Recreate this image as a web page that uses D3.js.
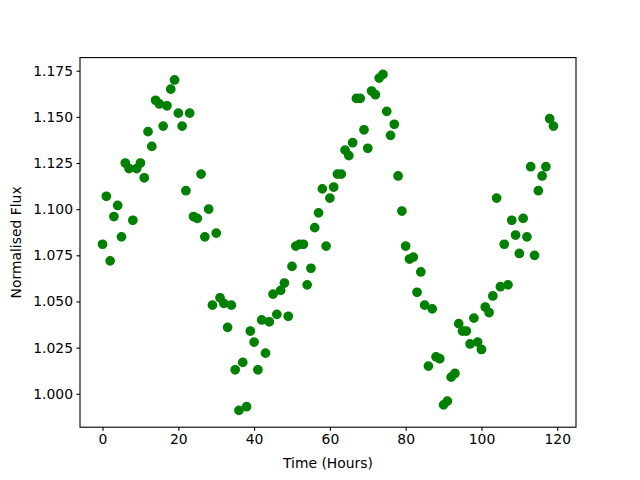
<!DOCTYPE html>
<html>
<head>
<meta charset="utf-8">
<script src="https://cdn.jsdelivr.net/npm/d3@7"></script>
<style>
  body { margin: 0; background: #fff; }
  text { font-family: "DejaVu Sans", sans-serif; fill: #000; }
</style>
</head>
<body>
<svg class="chart" width="640" height="480"></svg>
<script>
// hours 0..119, one reading per hour
const hours = d3.range(0, 120)
const flux = [
  1.081, 1.107, 1.072, 1.096, 1.102, 1.085, 1.125, 1.122, 1.094, 1.122,
  1.125, 1.117, 1.142, 1.134, 1.159, 1.157, 1.145, 1.156, 1.165, 1.170,
  1.152, 1.145, 1.110, 1.152, 1.096, 1.095, 1.119, 1.085, 1.100, 1.048,
  1.087, 1.052, 1.049, 1.036, 1.048, 1.013, 0.991, 1.017, 0.993, 1.034,
  1.028, 1.013, 1.040, 1.022, 1.039, 1.054, 1.043, 1.056, 1.060, 1.042,
  1.069, 1.080, 1.081, 1.081, 1.059, 1.068, 1.090, 1.098, 1.111, 1.080,
  1.106, 1.112, 1.119, 1.119, 1.132, 1.129, 1.136, 1.160, 1.160, 1.143,
  1.133, 1.164, 1.162, 1.171, 1.173, 1.153, 1.140, 1.146, 1.118, 1.099,
  1.080, 1.073, 1.074, 1.055, 1.066, 1.048, 1.015, 1.046, 1.020, 1.019,
  0.994, 0.996, 1.009, 1.011, 1.038, 1.034, 1.034, 1.027, 1.041, 1.028,
  1.024, 1.047, 1.044, 1.053, 1.106, 1.058, 1.081, 1.059, 1.094, 1.086,
  1.076, 1.095, 1.085, 1.123, 1.075, 1.110, 1.118, 1.123, 1.149, 1.145
]
const xTicks = [0, 20, 40, 60, 80, 100, 120]
const yTicks = [1.000, 1.025, 1.050, 1.075, 1.100, 1.125, 1.150, 1.175]

const plotLeft = 80, plotRight = 576, plotTop = 57.6, plotBottom = 427.2
const svg = d3.select('.chart')

// matplotlib-style 5% margins
const xMin = d3.min(hours), xMax = d3.max(hours)
const yMin = d3.min(flux), yMax = d3.max(flux)
const xPad = (xMax - xMin) * 0.05, yPad = (yMax - yMin) * 0.05
const xScale = d3.scaleLinear([xMin - xPad, xMax + xPad], [plotLeft, plotRight])
const yScale = d3.scaleLinear([yMin - yPad, yMax + yPad], [plotBottom, plotTop])

svg.append('g')
    .selectAll('circle')
    .data(hours)
    .join('circle')
    .attr('cx', d => xScale(d))
    .attr('cy', (d, i) => yScale(flux[i]))
    .attr('r', 4.17)
    .attr('fill', '#008000')
    .attr('stroke', '#008000')
    .attr('stroke-width', 1.39)

const xAxis = d3.axisBottom(xScale).tickValues(xTicks).tickSize(3.5).tickPadding(3.5)
    .tickFormat(d3.format('d'))
svg.append('g')
    .attr('transform', `translate(0,${plotBottom})`)
    .call(xAxis)
    .call(g => g.select('.domain').remove())
    .call(g => g.selectAll('text').attr('font-size', '13.9px').attr('font-family', 'DejaVu Sans'))
    .call(g => g.selectAll('line').attr('stroke-width', 1.1))

const yAxis = d3.axisLeft(yScale).tickValues(yTicks).tickSize(3.5).tickPadding(3.5)
    .tickFormat(d3.format('.3f'))
svg.append('g')
    .attr('transform', `translate(${plotLeft},0)`)
    .call(yAxis)
    .call(g => g.select('.domain').remove())
    .call(g => g.selectAll('text').attr('font-size', '13.9px').attr('font-family', 'DejaVu Sans'))
    .call(g => g.selectAll('line').attr('stroke-width', 1.1))

svg.append('rect')
    .attr('x', plotLeft).attr('y', plotTop)
    .attr('width', plotRight - plotLeft).attr('height', plotBottom - plotTop)
    .attr('fill', 'none').attr('stroke', '#000').attr('stroke-width', 1.1)

svg.append('text')
    .text('Time (Hours)')
    .attr('x', (plotLeft + plotRight) / 2)
    .attr('y', 468)
    .attr('text-anchor', 'middle')
    .attr('font-size', '13.9px')

svg.append('text')
    .text('Normalised Flux')
    .attr('transform', `translate(21,${(plotTop + plotBottom) / 2}) rotate(-90)`)
    .attr('text-anchor', 'middle')
    .attr('font-size', '13.9px')
</script>
</body>
</html>
